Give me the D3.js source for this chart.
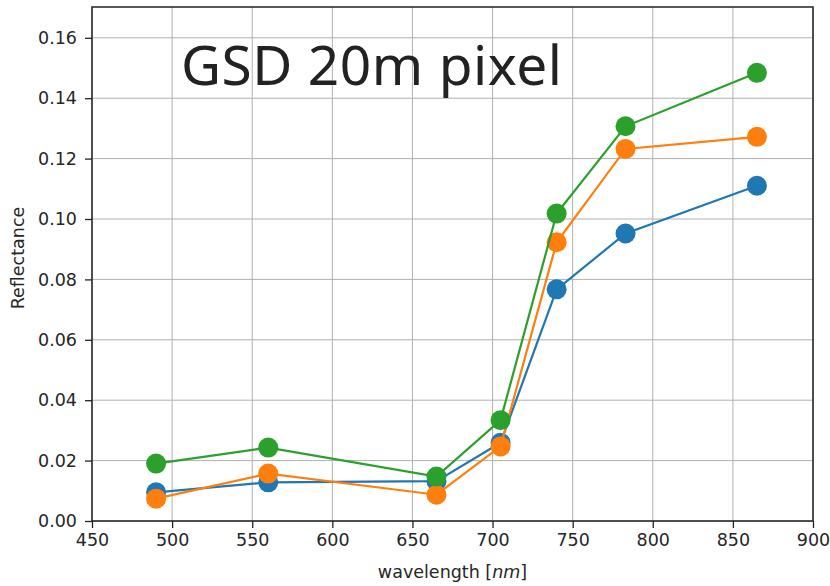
<!DOCTYPE html>
<html>
<head>
<meta charset="utf-8">
<script src="https://cdn.jsdelivr.net/npm/d3@7"></script>
<style>
body { margin: 0; background: #fff; }
text { font-family: "DejaVu Sans", sans-serif; }
</style>
</head>
<body>
<div id="chart"></div>
<script>
var width = 830;
var height = 586;
var margin = { top: 7, right: 17, bottom: 65, left: 92 };

// Sentinel-2 band centres
var wavelengths = [490, 560, 665, 705, 740, 783, 865];
var blueValues = [0.0095, 0.0128, 0.0132, 0.0259, 0.0767, 0.0952, 0.1110];
var orangeValues = [0.0074, 0.0157, 0.0087, 0.0247, 0.0923, 0.1232, 0.1272];
var greenValues = [0.0190, 0.0243, 0.0147, 0.0334, 0.1018, 0.1307, 0.1484];
var xTicks = [450, 500, 550, 600, 650, 700, 750, 800, 850, 900];
var yTicks = [0, 0.02, 0.04, 0.06, 0.08, 0.10, 0.12, 0.14, 0.16];

var series = [
  { name: "blue", color: "#1f77b4", values: blueValues },
  { name: "orange", color: "#ff7f0e", values: orangeValues },
  { name: "green", color: "#2ca02c", values: greenValues }
];

var svg = d3.select("#chart").append("svg")
  .attr("width", width)
  .attr("height", height);

var x = d3.scaleLinear().domain([450, 900]).range([margin.left, width - margin.right]);
var y = d3.scaleLinear().domain([0, 0.1702]).range([height - margin.bottom, margin.top]);

// grid
svg.append("g").selectAll("line.vx")
  .data(xTicks)
  .enter().append("line")
  .attr("x1", function(d) { return x(d); })
  .attr("x2", function(d) { return x(d); })
  .attr("y1", y(0))
  .attr("y2", margin.top)
  .attr("stroke", "#b0b0b0")
  .attr("stroke-width", 1);

svg.append("g").selectAll("line.hy")
  .data(yTicks)
  .enter().append("line")
  .attr("x1", margin.left)
  .attr("x2", width - margin.right)
  .attr("y1", function(d) { return y(d); })
  .attr("y2", function(d) { return y(d); })
  .attr("stroke", "#b0b0b0")
  .attr("stroke-width", 1);

// title text inside the plot
svg.append("text")
  .attr("x", 181)
  .attr("y", 85)
  .attr("font-size", "55px")
  .style("font-family", "'Noto Sans', sans-serif")
  .attr("textLength", 381)
  .attr("fill", "#222")
  .text("GSD 20m pixel");

// lines and markers
var line = d3.line()
  .x(function(d, i) { return x(wavelengths[i]); })
  .y(function(d) { return y(d); });

series.forEach(function(s) {
  svg.append("path")
    .datum(s.values)
    .attr("d", line)
    .attr("fill", "none")
    .attr("stroke", s.color)
    .attr("stroke-width", 2.2);

  svg.append("g").selectAll("circle")
    .data(s.values)
    .enter().append("circle")
    .attr("cx", function(d, i) { return x(wavelengths[i]); })
    .attr("cy", function(d) { return y(d); })
    .attr("r", 10)
    .attr("fill", s.color);
});

// axes
var xAxis = d3.axisBottom(x).tickValues(xTicks).tickSize(7).tickPadding(6)
  .tickFormat(d3.format("d"));
var yAxis = d3.axisLeft(y).tickValues(yTicks).tickSize(7).tickPadding(8)
  .tickFormat(d3.format(".2f"));

var gx = svg.append("g")
  .attr("transform", "translate(0," + y(0) + ")")
  .call(xAxis);
var gy = svg.append("g")
  .attr("transform", "translate(" + margin.left + ",0)")
  .call(yAxis);

[gx, gy].forEach(function(g) {
  g.selectAll("text")
    .attr("font-size", "17.5px")
    .attr("fill", "#262626")
    .style("font-family", "'DejaVu Sans', sans-serif");
  g.selectAll("line").attr("stroke", "#222").attr("stroke-width", 1.3);
  g.select(".domain").remove();
});

// frame
svg.append("rect")
  .attr("x", margin.left)
  .attr("y", margin.top)
  .attr("width", width - margin.left - margin.right)
  .attr("height", height - margin.top - margin.bottom)
  .attr("fill", "none")
  .attr("stroke", "#222")
  .attr("stroke-width", 1.5);

// axis labels
var xl = svg.append("text")
  .attr("x", x(675))
  .attr("y", 578)
  .attr("text-anchor", "middle")
  .attr("font-size", "17.5px")
  .attr("fill", "#262626");
xl.append("tspan").text("wavelength [");
xl.append("tspan").attr("font-style", "italic").text("nm");
xl.append("tspan").text("]");

svg.append("text")
  .attr("transform", "translate(24,258) rotate(-90)")
  .attr("text-anchor", "middle")
  .attr("font-size", "17.5px")
  .attr("fill", "#262626")
  .text("Reflectance");
</script>
</body>
</html>
